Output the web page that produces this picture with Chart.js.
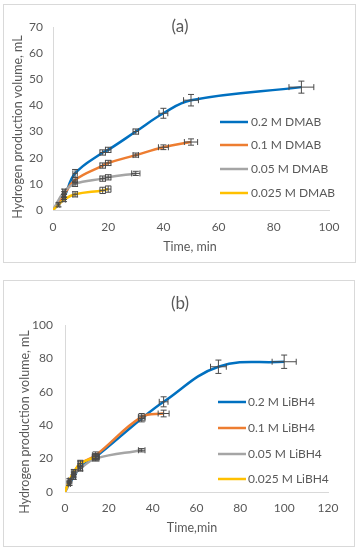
<!DOCTYPE html>
<html><head><meta charset="utf-8">
<script src="https://cdn.jsdelivr.net/npm/chart.js@4.4.1/dist/chart.umd.min.js"></script>
<style>
html,body{margin:0;padding:0;background:#fff;}
body{width:361px;height:550px;position:relative;overflow:hidden;}
.box{position:absolute;border:1px solid #d9d9d9;box-sizing:border-box;background:#fff;}
#boxA{left:3px;top:4px;width:353px;height:259px;}
#boxB{left:3px;top:280px;width:352px;height:267px;}
canvas{display:block;}
</style></head><body>
<div class="box" id="boxA"><canvas id="cA"></canvas></div>
<div class="box" id="boxB"><canvas id="cB"></canvas></div>
<script>
// ---------- Chart (a): DMAB ----------
const labelsA = ['0.2 M DMAB','0.1 M DMAB','0.05 M DMAB','0.025 M DMAB'];
const timeA_020 = [0,4,8,18,20,30,40,50,90];
const volA_020  = [0,5,14,22,23,30,37,42,47];
const xErrA_020 = [0,0.5,0.8,1,1,1,1.6,2.7,4.5];
const yErrA_020 = [0,1,1.5,1,1,1,1.9,2.2,2.3];
const timeA_010 = [0,4,8,18,20,30,40,50];
const volA_010  = [0,6,11.5,17,18,21,24,26];
const xErrA_010 = [0,0.5,0.8,1,1,1,1.8,2.4];
const yErrA_010 = [0,1,1,1,1,0.8,0.9,1.2];
const timeA_005 = [0,4,8,18,20,30];
const volA_005  = [0,7,10,12,12.5,14];
const xErrA_005 = [0,0.5,0.8,1,1,1.5];
const yErrA_005 = [0,1,1,1,1,0.8];
const timeA_0025 = [0,2,4,8,18,20];
const volA_0025  = [0,2,4,6,7.5,8];
const xErrA_0025 = [0,0.5,0.5,0.8,1,1];
const yErrA_0025 = [0,0.8,0.8,1,1.2,1.2];
const yTicksA = {min:0, max:70, step:10};
const xTicksA = {min:0, max:100, step:20};

// ---------- Chart (b): LiBH4 ----------
const labelsB = ['0.2 M LiBH4','0.1 M LiBH4','0.05 M LiBH4','0.025 M LiBH4'];
const timeB_020 = [0,2,4,7,14,35,45,70,100];
const volB_020  = [0,5,9,15,21,44,54,75,78];
const xErrB_020 = [0,0.5,0.8,1,1.5,1.5,2,3.6,5.5];
const yErrB_020 = [0,1,1.5,2,2,2,3,4,4];
const timeB_010 = [0,2,4,7,14,35,45];
const volB_010  = [0,6,11,17,22,45,47];
const xErrB_010 = [0,0.5,0.8,1,1.5,1.5,2.5];
const yErrB_010 = [0,1,1.5,2,2,2,2];
const timeB_005 = [0,2,4,7,14,35];
const volB_005  = [0,5,10,14,20,25];
const xErrB_005 = [0,0.5,0.8,1,1.5,1.5];
const yErrB_005 = [0,1,1.5,1.5,1.5,1];
const timeB_0025 = [0,2,4,7,14];
const volB_0025  = [0,7,12,17,21];
const xErrB_0025 = [0,0.5,0.8,1,1.5];
const yErrB_0025 = [0,1,1.5,1.5,1.5];
const yTicksB = {min:0, max:100, step:20};
const xTicksB = {min:0, max:120, step:20};

const COLORS = ['#0070C0','#ED7D31','#A5A5A5','#FFC000'];
const TXT = '#595959';
const FONT = 'Lato';

function series(t, v, xe, ye){
  return t.map((x,i)=>({x:x, y:v[i], xe:xe[i], ye:ye[i]}));
}

const errorBars = {
  id:'errorBars',
  afterDatasetsDraw(chart){
    const ctx = chart.ctx, xs = chart.scales.x, ys = chart.scales.y;
    ctx.save();
    ctx.strokeStyle = '#4a4a4a';
    ctx.lineWidth = 1;
    const cap = 3;
    chart.data.datasets.forEach(ds=>{
      ds.data.forEach(p=>{
        if(!p.xe && !p.ye) return;
        const px = xs.getPixelForValue(p.x), py = ys.getPixelForValue(p.y);
        ctx.beginPath();
        if(p.ye){
          const y1 = ys.getPixelForValue(p.y - p.ye), y2 = ys.getPixelForValue(p.y + p.ye);
          ctx.moveTo(px, y1); ctx.lineTo(px, y2);
          ctx.moveTo(px-cap, y1); ctx.lineTo(px+cap, y1);
          ctx.moveTo(px-cap, y2); ctx.lineTo(px+cap, y2);
        }
        if(p.xe){
          const x1 = xs.getPixelForValue(p.x - p.xe), x2 = xs.getPixelForValue(p.x + p.xe);
          ctx.moveTo(x1, py); ctx.lineTo(x2, py);
          ctx.moveTo(x1, py-cap); ctx.lineTo(x1, py+cap);
          ctx.moveTo(x2, py-cap); ctx.lineTo(x2, py+cap);
        }
        ctx.stroke();
      });
    });
    ctx.restore();
  }
};

function textPlugin(cfg){
  return {
    id:'texts',
    afterDraw(chart){
      const ctx = chart.ctx;
      ctx.save();
      ctx.fillStyle = TXT;
      // caption
      ctx.font = '17px ' + FONT;
      ctx.textAlign = 'center'; ctx.textBaseline = 'middle';
      ctx.fillText(cfg.caption, cfg.capX, cfg.capY);
      // x title
      ctx.font = '12.5px ' + FONT;
      ctx.fillText(cfg.xTitle, cfg.xtX, cfg.xtY);
      // y title
      ctx.save();
      ctx.translate(cfg.ytX, cfg.ytY);
      ctx.rotate(-Math.PI/2);
      ctx.fillText(cfg.yTitle, 0, 0);
      ctx.restore();
      // legend
      ctx.font = '12px ' + FONT;
      ctx.textAlign = 'left';
      chart.data.datasets.forEach((ds,i)=>{
        const y = cfg.legY[i];
        ctx.strokeStyle = ds.borderColor;
        ctx.lineWidth = 2.5;
        ctx.beginPath();
        ctx.moveTo(cfg.legX1, y); ctx.lineTo(cfg.legX2, y);
        ctx.stroke();
        ctx.fillStyle = TXT;
        ctx.fillText(ds.label, cfg.legTX, y + 0.5);
      });
      ctx.restore();
    }
  };
}

function makeChart(id, sets, labels, yT, xT, pad, yW, xH, yPad, xPad, txt){
  const datasets = sets.map((s,i)=>({
    label: labels[i],
    data: s,
    borderColor: COLORS[i],
    backgroundColor: COLORS[i],
    borderWidth: 2.5,
    pointRadius: 0,
    tension: 0.4,
    fill: false,
    order: sets.length - i
  }));
  return new Chart(document.getElementById(id), {
    type:'line',
    data:{datasets},
    options:{
      responsive:true, maintainAspectRatio:false, animation:false,
      layout:{padding:pad},
      plugins:{legend:{display:false}, tooltip:{enabled:false}, title:{display:false}},
      scales:{
        x:{type:'linear', min:xT.min, max:xT.max,
           ticks:{stepSize:xT.step, color:TXT, font:{family:FONT,size:12}, padding:xPad, maxRotation:0},
           grid:{display:false, drawTicks:false},
           border:{display:true, color:'#d9d9d9', width:1},
           afterFit(s){ s.height = xH; }},
        y:{type:'linear', min:yT.min, max:yT.max,
           ticks:{stepSize:yT.step, color:TXT, font:{family:FONT,size:12}, padding:yPad},
           grid:{display:false, drawTicks:false},
           border:{display:true, color:'#d9d9d9', width:1},
           afterFit(s){ s.width = yW; }}
      }
    },
    plugins:[errorBars, textPlugin(txt)]
  });
}

makeChart('cA',
  [series(timeA_020,volA_020,xErrA_020,yErrA_020),
   series(timeA_010,volA_010,xErrA_010,yErrA_010),
   series(timeA_005,volA_005,xErrA_005,yErrA_005),
   series(timeA_0025,volA_0025,xErrA_0025,yErrA_0025)],
  labelsA, yTicksA, xTicksA,
  {top:22,right:26,left:0,bottom:0}, 49, 52, 10, 10,
  {caption:'(a)', capX:176, capY:22, xTitle:'Time, min', xtX:186, xtY:242,
   yTitle:'Hydrogen production volume, mL', ytX:14, ytY:122,
   legY:[117,140,164,188], legX1:216, legX2:244, legTX:247});

makeChart('cB',
  [series(timeB_020,volB_020,xErrB_020,yErrB_020),
   series(timeB_010,volB_010,xErrB_010,yErrB_010),
   series(timeB_005,volB_005,xErrB_005,yErrB_005),
   series(timeB_0025,volB_0025,xErrB_0025,yErrB_0025)],
  labelsB, yTicksB, xTicksB,
  {top:44,right:26,left:0,bottom:0}, 61, 54, 12, 9,
  {caption:'(b)', capX:176, capY:23, xTitle:'Time,min', xtX:188, xtY:247,
   yTitle:'Hydrogen production volume, mL', ytX:21, ytY:141,
   legY:[121,147,173,198], legX1:214, legX2:242, legTX:244});
</script>
</body></html>
